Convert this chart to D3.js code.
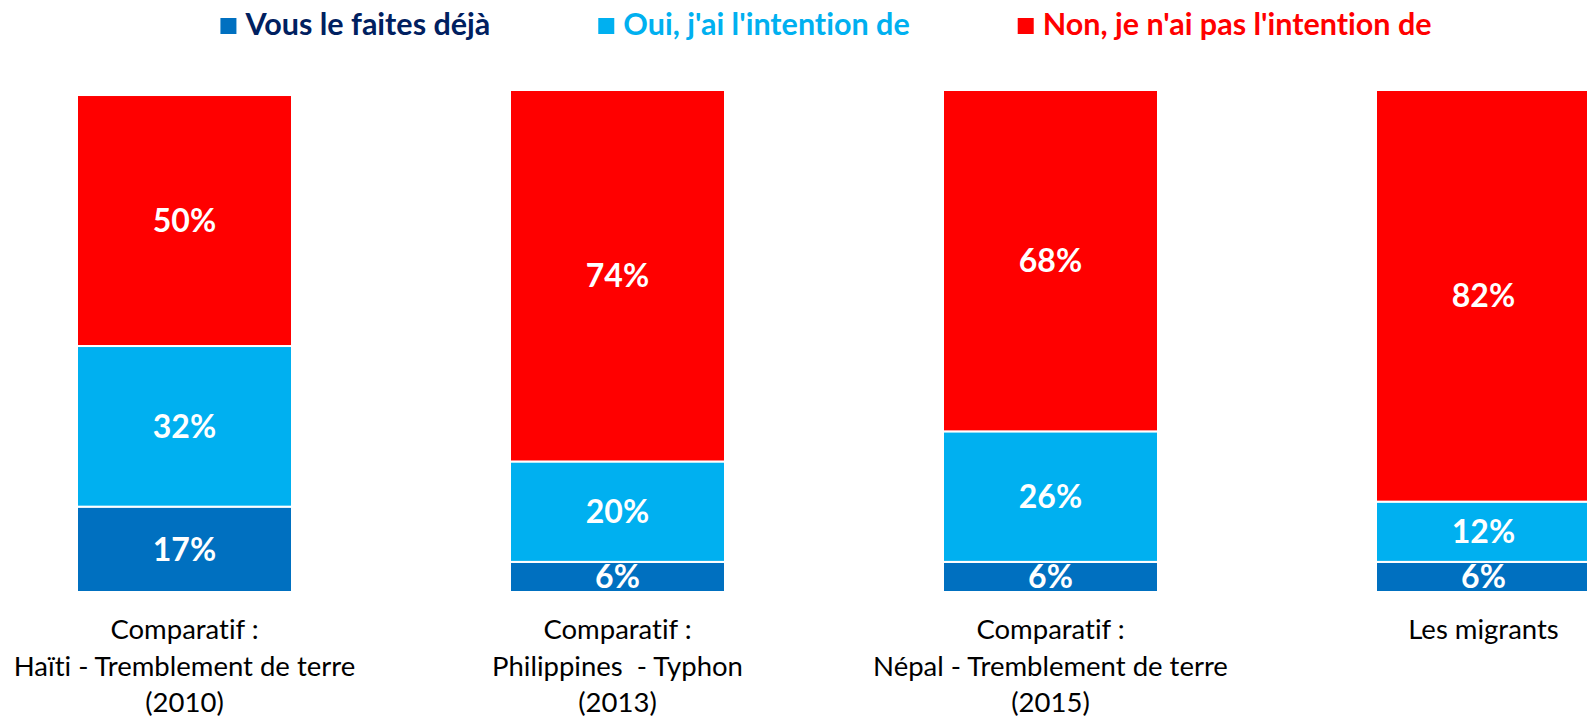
<!DOCTYPE html>
<html>
<head>
<meta charset="utf-8">
<script src="https://cdn.jsdelivr.net/npm/d3@7"></script>
<style>
  body { margin: 0; background: #fff; }
  text { font-family: Lato, "Open Sans", sans-serif; font-variant-ligatures: none; font-feature-settings: "liga" 0; }
</style>
</head>
<body>
<div id="chart"></div>
<script>
// categories (multi-line labels)
var categories = [
  ["Comparatif :", "Haïti - Tremblement de terre", "(2010)"],
  ["Comparatif :", "Philippines  - Typhon", "(2013)"],
  ["Comparatif :", "Népal - Tremblement de terre", "(2015)"],
  ["Les migrants"]
];
var series = ["Vous le faites déjà", "Oui, j'ai l'intention de", "Non, je n'ai pas l'intention de"];
var deja   = [17, 6, 6, 6];
var oui    = [32, 20, 26, 12];
var non    = [50, 74, 68, 82];

var colors     = ["#0070C0", "#00B0F0", "#FF0000"];
var textColors = ["#002060", "#00B0F0", "#FF0000"];

var width = 1587, height = 716
  , base = 592, top100 = 90
  , x0 = 77, step = 433, barW = 215
  ;

var rows = categories.map(function (c, i) {
  return { key: i, deja: deja[i], oui: oui[i], non: non[i] };
});

var stack = d3.stack().keys(["deja", "oui", "non"]);
var layers = stack(rows);

var x = d3.scaleBand()
    .domain(d3.range(categories.length))
    .range([x0, x0 + step * (categories.length - (step - barW) / step)])
    .paddingInner((step - barW) / step)
    .paddingOuter(0);

var y = d3.scaleLinear()
    .domain([0, 100])
    .range([base, top100]);

var svg = d3.select('#chart').append('svg')
    .attr('width', width)
    .attr('height', height);

// bars
var groups = svg.append('g').selectAll('g')
    .data(layers)
  .enter().append('g')
    .attr('fill', (d, i) => colors[i]);

groups.selectAll('rect')
    .data(d => d)
  .enter().append('rect')
    .attr('x', (d, i) => x(i))
    .attr('width', x.bandwidth())
    .attr('y', d => y(d[1]))
    .attr('height', d => y(d[0]) - y(d[1]))
    .attr('stroke', '#fff')
    .attr('stroke-width', 2);

// value labels
groups.selectAll('text')
    .data(d => d.map(p => ({ p: p, v: p[1] - p[0] })))
  .enter().append('text')
    .attr('x', (d, i) => x(i) + x.bandwidth() / 2)
    .attr('y', d => (y(d.p[0]) + y(d.p[1])) / 2)
    .attr('dy', '0.36em')
    .attr('text-anchor', 'middle')
    .attr('fill', '#fff')
    .style('font-weight', 'bold')
    .style('font-size', '32px')
    .text(d => d.v + '%');

// category labels
var cat = svg.append('g').selectAll('text')
    .data(categories)
  .enter().append('text')
    .attr('x', (d, i) => x(i) + x.bandwidth() / 2)
    .attr('y', 639)
    .attr('text-anchor', 'middle')
    .attr('fill', '#000')
    .style('font-size', '27.5px')
    .style('white-space', 'pre');

cat.selectAll('tspan')
    .data(d => d)
  .enter().append('tspan')
    .attr('x', function () { return d3.select(this.parentNode).attr('x'); })
    .attr('dy', (d, i) => i ? 36.5 : 0)
    .text(d => d);

// legend
var legend = svg.append('g').attr('class', 'legend');
var items = legend.selectAll('g')
    .data(series)
  .enter().append('g');

items.append('rect')
    .attr('y', 18)
    .attr('width', 16)
    .attr('height', 16)
    .attr('fill', (d, i) => colors[i]);

items.append('text')
    .attr('x', 25)
    .attr('y', 35)
    .attr('fill', (d, i) => textColors[i])
    .style('font-weight', 'bold')
    .style('font-size', '30.5px')
    .text(d => d);

var gap = 108, pos = 0, offs = [];
items.each(function () {
  offs.push(pos);
  pos += this.getBBox().width + gap;
});
var total = pos - gap;
items.attr('transform', (d, i) => 'translate(' + (826 - total / 2 + offs[i]) + ',0)');
</script>
</body>
</html>
